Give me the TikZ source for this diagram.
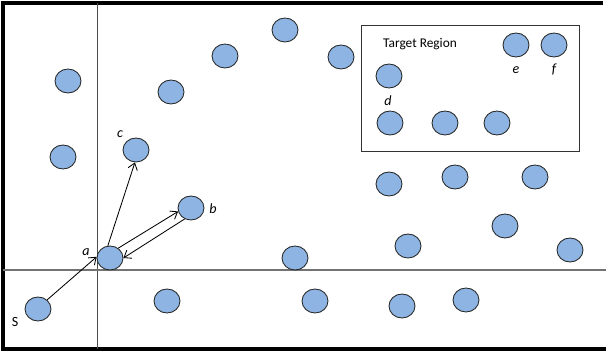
\documentclass[tikz,border=0pt]{standalone}
\usepackage{fontspec}
\setmainfont{Carlito}
\usetikzlibrary{shapes.geometric,arrows.meta}
\definecolor{sensorblue}{RGB}{141,180,226}
\tikzset{
    sensor/.style={ellipse, draw=black!85, line width=0.6pt, fill=sensorblue, minimum width=0.65cm, minimum height=0.6cm, inner sep=0pt},
    tag/.style={font=\fontsize{10}{12}\selectfont\itshape, inner sep=0pt},
    msg/.style={-{Straight Barb[length=1.6mm,width=2.4mm]}, line width=0.6pt}
}

\begin{document}
\begin{tikzpicture}[x=0.025cm, y=-0.025cm]
            \useasboundingbox (0,0) rectangle (606,354);
            % frame and axes
            \draw [line width=2.2pt] (603,3) -- (3,3) -- (3,349) -- (606,349);
            \draw [black!70] (97,3) -- (97,349);
            \draw [black!55, line width=1.2pt] (3,270) -- (606,270);
            \draw [black!80] (361,25) rectangle (579,151);
            \node (title) at (420,44) {\fontsize{9.5}{11}\selectfont Target Region};

            % labelled sensors
            \node [sensor] (s) at (38,309) {};
            \node [sensor] (a) at (110,258) {};
            \node [sensor] (b) at (191,208) {};
            \node [sensor] (c) at (136,150) {};
            \node [sensor] (d) at (389,76) {};
            \node [sensor] (e) at (516,45) {};
            \node [sensor] (f) at (554,45) {};

            % other sensors
            \foreach \px/\py [count=\i] in {68/81, 63/157, 171/92, 225/56, 285/30, 341/57,
                    390/123, 445/123, 497/123, 389/184, 455/177, 535/177, 505/226,
                    408/246, 295/258, 570/250, 167/301, 315/301, 402/306, 466/300}
                \node [sensor] (n\i) at (\px,\py) {};

            % names
            \node [tag, font=\fontsize{10}{12}\selectfont] (sname) at (15,322) {S};
            \node [tag] (aname) at (86,252) {a};
            \node [tag] (bname) at (213,209) {b};
            \node [tag] (cname) at (120,134) {c};
            \node [tag] (dname) at (388,101) {d};
            \node [tag] (ename) at (516,70) {e};
            \node [tag] (fname) at (554,70) {f};

            % messages
            \draw [msg] (s.45) -- (a.175);
            \draw [msg] (a.100) -- (c.265);
            \draw [msg] (a.50) -- (b.195);
            \draw [msg] (b.240) -- (a.0);
        \end{tikzpicture}
\end{document}
